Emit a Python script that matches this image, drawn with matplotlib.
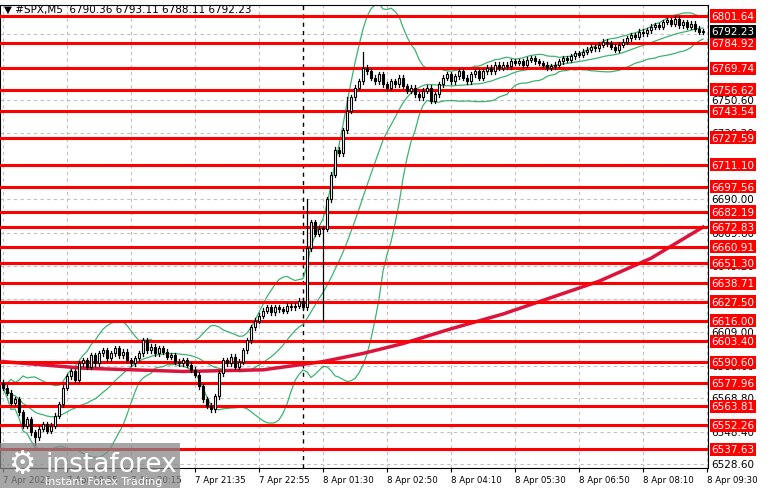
import matplotlib
matplotlib.use("Agg")
import matplotlib.pyplot as plt
import numpy as np
import pandas as pd
from matplotlib.patches import Rectangle
import matplotlib.transforms as mtrans

closes = [6575,6572,6566,6568,6560,6552,6556,6548,6545,6550,6553,6549,6552,6558,6565,6575,
          6582,6585,6580,6590,6592,6588,6595,6590,6596,6598,6593,6596,6599,6595,6597,6592,
          6590,6593,6596,6604,6598,6600,6596,6599,6597,6594,6595,6591,6590,6592,6589,6586,
          6583,6576,6568,6564,6562,6570,6584,6592,6590,6594,6588,6591,6598,6604,6612,6616,
          6619,6622,6624,6621,6624,6623,6622,6625,6624,6625,6628,6624,6660,6676,6669,6672,
          6672,6690,6705,6720,6718,6732,6744,6752,6758,6762,6770,6768,6764,6762,6766,6760,
          6758,6762,6760,6764,6759,6756,6758,6754,6752,6756,6758,6750,6754,6760,6764,6766,
          6762,6765,6768,6764,6762,6766,6768,6764,6768,6770,6768,6772,6770,6772,6771,6774,
          6773,6774,6772,6775,6776,6774,6773,6772,6770,6771,6772,6774,6776,6775,6777,6779,
          6778,6780,6781,6783,6782,6784,6786,6785,6783,6781,6784,6786,6788,6790,6789,6792,
          6791,6793,6795,6796,6795,6798,6799,6797,6800,6796,6798,6795,6797,6794,6792,6792.23]
first_open = 6578
special_highs = {76: 6690, 86: 6752, 90: 6780}
special_lows = {80: 6616, 8: 6540}

ma_bars = [0, 20, 45, 65, 80, 90, 100, 112, 125, 137, 149, 162, 175]
ma_vals = [6591, 6587, 6585, 6586, 6591, 6596, 6602, 6611, 6620, 6630, 6640, 6654, 6673]

levels = [6801.64, 6784.92, 6769.74, 6756.62, 6743.54, 6727.59, 6711.10, 6697.56, 6682.19,
          6672.83, 6660.91, 6651.30, 6638.71, 6627.50, 6616.00, 6603.40, 6590.60, 6577.96,
          6563.81, 6552.26, 6537.63]
grid_prices = [6528.60, 6548.40, 6568.80, 6588.60, 6609.00, 6629.40, 6649.20, 6669.60,
               6690.00, 6710.40, 6730.20, 6750.60, 6770.40, 6790.80]
tick_bars = [0, 16, 32, 48, 64, 80, 96, 112, 128, 144, 160, 176]
tick_labels = ["7 Apr 2026", "7 Apr 18:55", "7 Apr 20:15", "7 Apr 21:35", "7 Apr 22:55",
               "8 Apr 01:30", "8 Apr 02:50", "8 Apr 04:10", "8 Apr 05:30", "8 Apr 06:50",
               "8 Apr 08:10", "8 Apr 09:30"]
last_price = 6792.23

W, H = 781, 489
fig = plt.figure(figsize=(W/100, H/100), dpi=100)
ax = fig.add_axes([0/W, 1-469/H, 708/W, 463/H])
n = len(closes)
ax.set_xlim(-0.75, (708-3)/4)
ax.set_ylim(6526.16, 6808.35)

for gp in grid_prices:
    ax.axhline(gp, color="#c0c0c0", ls=(0, (3, 3)), lw=0.8, zorder=0)
for tb in tick_bars:
    ax.axvline(tb, color="#c0c0c0", ls=(0, (3, 3)), lw=0.8, zorder=0)
ax.axvline(75, color="black", ls=(0, (3, 3)), lw=1, zorder=1)

s = pd.Series(closes, dtype=float)
mid = s.rolling(20, min_periods=1).mean()
sd = s.rolling(20, min_periods=1).std().fillna(0)
x = np.arange(n)
for b in (mid, mid + 2*sd, mid - 2*sd):
    ax.plot(x, b, color="#3cb371", lw=0.9, zorder=2)

ax.plot(ma_bars, ma_vals, color="#dc143c", lw=2.5, zorder=3)

for lv in levels:
    ax.axhline(lv, color="#ff0000", lw=2.2, zorder=4)

opens = [first_open] + closes[:-1]
for i, (o, c) in enumerate(zip(opens, closes)):
    hi = special_highs.get(i, max(o, c) + 1.5)
    lo = special_lows.get(i, min(o, c) - 1.5)
    ax.plot([i, i], [lo, hi], color="black", lw=0.9, zorder=5)
    up = c >= o
    ax.add_patch(Rectangle((i-0.35, min(o, c)), 0.7, max(abs(c-o), 0.3),
                           facecolor="white" if up else "black", edgecolor="black",
                           lw=0.8, zorder=6))

for sp in ax.spines.values():
    sp.set_color("black")
ax.set_xticks(tick_bars)
ax.set_xticklabels(tick_labels, fontsize=6.2, ha="left")
ax.tick_params(axis="x", length=3, pad=2)
ax.set_yticks([])

tr = mtrans.blended_transform_factory(ax.transAxes, ax.transData)
for gp in grid_prices:
    ax.text(1.005, gp, f"{gp:.2f}", transform=tr, fontsize=7.5, va="center", ha="left",
            clip_on=False, zorder=7)
for lv in levels:
    ax.text(1.005, lv, f"{lv:.2f}", transform=tr, fontsize=7.5, va="center", ha="left",
            color="white", clip_on=False, zorder=8,
            bbox=dict(boxstyle="square,pad=0.15", fc="#ff0000", ec="none"))
ax.text(1.005, last_price, f"{last_price:.2f}", transform=tr, fontsize=7.5, va="center",
        ha="left", color="white", clip_on=False, zorder=9,
        bbox=dict(boxstyle="square,pad=0.15", fc="black", ec="none"))

fig.text(4/W, 1-10/H, "\u25bc #SPX,M5  6790.36 6793.11 6788.11 6792.23", fontsize=7.5,
         va="center", ha="left")

fig.patches.append(Rectangle((0, 0), 180/W, 45/H, transform=fig.transFigure,
                             facecolor="#888888", alpha=0.75, zorder=10))
fig.text(45/W, 24/H, "instaforex", fontsize=19, color="white", va="center", zorder=11)
fig.text(45/W, 7/H, "Instant Forex Trading", fontsize=8, color="white", va="center", zorder=11)
fig.text(8/W, 24/H, "\u2699", fontsize=22, color="white", va="center", zorder=11)

fig.savefig("out.png", dpi=100)
